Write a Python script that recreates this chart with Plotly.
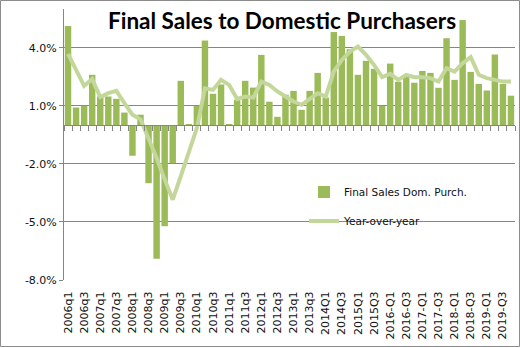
import plotly.graph_objects as go

quarters = [
    "2006q1","2006q2","2006q3","2006q4","2007q1","2007q2","2007q3","2007q4",
    "2008q1","2008q2","2008q3","2008q4","2009q1","2009q2","2009q3","2009q4",
    "2010q1","2010q2","2010q3","2010q4","2011q1","2011q2","2011q3","2011q4",
    "2012q1","2012q2","2012q3","2012q4","2013q1","2013q2","2013q3","2013q4",
    "2014Q1","2014Q2","2014Q3","2014Q4","2015Q1","2015Q2","2015Q3","2015Q4",
    "2016-Q1","2016-Q2","2016-Q3","2016-Q4","2017-Q1","2017-Q2","2017-Q3","2017-Q4",
    "2018-Q1","2018-Q2","2018-Q3","2018-Q4","2019-Q1","2019-Q2","2019-Q3","2019-Q4",
]

final_sales = [
    5.12, 0.91, 1.0, 2.6, 1.48, 1.48, 1.36, 0.65,
    -1.58, 0.54, -3.0, -6.9, -5.22, -1.97, 2.29, 0.05,
    1.0, 4.37, 1.62, 2.1, 0.05, 1.31, 2.29, 1.94,
    3.63, 1.21, 0.43, 1.57, 1.77, 0.79, 1.77, 2.7,
    1.43, 4.81, 4.61, 3.92, 2.6, 3.32, 2.91, 1.0,
    3.18, 2.24, 2.6, 2.19, 2.8, 2.7, 1.93, 4.49,
    2.34, 5.43, 2.75, 2.13, 1.79, 3.65, 2.13, 1.52,
]

year_over_year = [
    3.68, 2.85, 2.03, 2.38, 1.45, 1.65, 1.77, 1.14,
    0.54, 0.3, -0.65, -1.7, -2.8, -3.85, -2.64, -1.44,
    -0.15, 1.9, 1.82, 2.34, 2.08, 1.35, 1.48, 1.42,
    2.25, 2.08, 1.74, 1.48, 1.22, 1.05, 1.35, 1.65,
    1.48, 2.77, 3.37, 3.8, 4.06, 3.63, 3.11, 2.48,
    2.65, 2.34, 2.6, 2.48, 2.48, 2.43, 2.25, 2.94,
    2.77, 3.2, 3.51, 2.6, 2.43, 2.34, 2.25, 2.25,
]

y_ticks = [-8, -5, -2, 1, 4]
y_tick_text = ["-8.0%", "-5.0%", "-2.0%", "1.0%", "4.0%"]
x_tick_labels = quarters[::2]

W, H = 520, 348
ML, MR, MT, MB = 64, 5, 9, 68
PW, PH = W - ML - MR, H - MT - MB
Y_MIN, Y_MAX = -8, 6

BAR_COLOR = "#9BBB59"
LINE_COLOR = "#C4D79B"
GRID = "#868686"
FONT = "DejaVu Sans"

fig = go.Figure()
fig.add_trace(go.Bar(
    x=quarters, y=final_sales, name="Final Sales Dom. Purch.",
    marker=dict(color=BAR_COLOR, line=dict(width=0)),
    legend="legend",
))
fig.add_trace(go.Scatter(
    x=quarters, y=year_over_year, name="Year-over-year", mode="lines",
    line=dict(color=LINE_COLOR, width=4),
    legend="legend2",
))
# dummy trace to host the zero-line tick axis
fig.add_trace(go.Scatter(x=[None], y=[None], xaxis="x2", showlegend=False, hoverinfo="skip"))

zero_pos = (0 - Y_MIN) / (Y_MAX - Y_MIN)
n = len(quarters)

fig.update_layout(
    width=W, height=H,
    margin=dict(l=ML, r=MR, t=MT, b=MB),
    paper_bgcolor="white", plot_bgcolor="white",
    bargap=0.2,
    showlegend=True,
    font=dict(family=FONT, size=11, color="#111"),
    xaxis=dict(
        type="category", categoryorder="array", categoryarray=quarters,
        tickmode="array", tickvals=x_tick_labels, ticktext=x_tick_labels,
        tickangle=-90, ticks="outside", ticklen=6, tickcolor="rgba(0,0,0,0)",
        showgrid=False, showline=False, zeroline=False,
        tickfont=dict(family=FONT, size=11, color="#111"),
        range=[-0.5, n - 0.5],
    ),
    xaxis2=dict(
        overlaying="x", anchor="free", position=zero_pos,
        range=[-0.5, n - 0.5], tickmode="linear", tick0=-0.5, dtick=1,
        ticks="outside", ticklen=5, tickcolor=GRID, tickwidth=1,
        showticklabels=False, showline=True, linecolor=GRID, linewidth=1,
        showgrid=False, zeroline=False,
    ),
    yaxis=dict(
        range=[Y_MIN, Y_MAX], tickmode="array", tickvals=y_ticks, ticktext=y_tick_text,
        showgrid=True, gridcolor=GRID, gridwidth=1,
        showline=True, linecolor=GRID, linewidth=1,
        ticks="outside", ticklen=4, tickcolor=GRID,
        zeroline=False,
        tickfont=dict(family=FONT, size=11, color="#111"),
    ),
    legend=dict(
        x=(304 - ML) / PW, y=1 - (192 - MT) / PH, xanchor="left", yanchor="middle",
        bgcolor="rgba(0,0,0,0)", font=dict(family=FONT, size=10.5, color="#111"),
    ),
    legend2=dict(
        x=(304 - ML) / PW, y=1 - (221 - MT) / PH, xanchor="left", yanchor="middle",
        bgcolor="rgba(0,0,0,0)", font=dict(family=FONT, size=10.5, color="#111"),
    ),
    annotations=[dict(
        text="<b>Final Sales to Domestic Purchasers</b>",
        xref="paper", yref="paper",
        x=(281.5 - ML) / PW, y=1 - (21 - MT) / PH,
        xanchor="center", yanchor="middle", showarrow=False,
        font=dict(family="Lato", size=22.5, color="#000"),
    )],
    shapes=[dict(
        type="rect", xref="paper", yref="paper",
        x0=(0.5 - ML) / PW, x1=(W - 0.5 - ML) / PW,
        y0=1 - (H - 1.5 - MT) / PH, y1=1 - (0.5 - MT) / PH,
        line=dict(color="#8c8c8c", width=1), layer="above",
    )],
)

fig.write_html("out.html")
